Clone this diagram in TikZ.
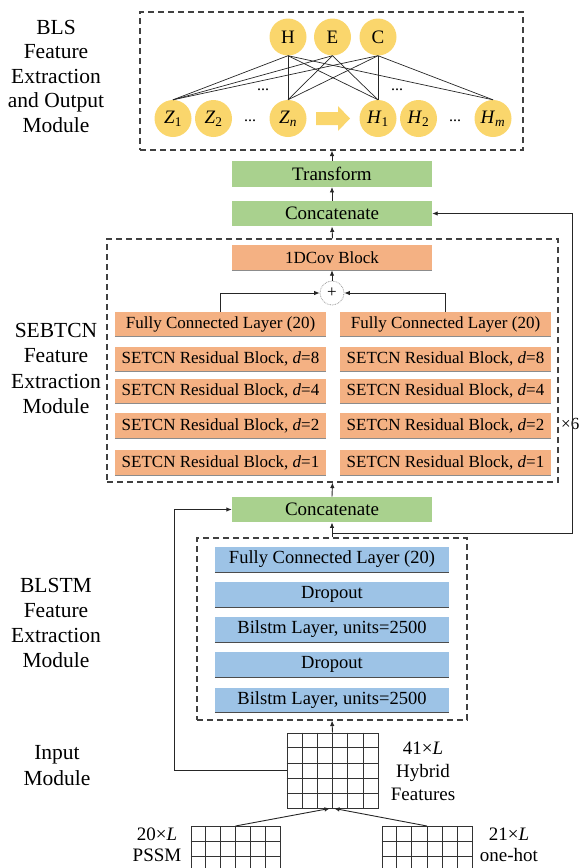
\documentclass[tikz,border=0pt]{standalone}
\usepackage{fontspec}
\setmainfont{Liberation Serif}
\usetikzlibrary{arrows.meta,calc}
\definecolor{cgreen}{HTML}{A9D18E}
\definecolor{corange}{HTML}{F4B183}
\definecolor{cblue}{HTML}{9DC3E6}
\definecolor{cyellow}{HTML}{FAD66C}
\begin{document}
\begin{tikzpicture}[x=1pt,y=-1pt,
  >={Latex[length=5.5pt,width=4.5pt]},
  conn/.style={line width=0.9pt, draw=black!85},
  gbox/.style={fill=cgreen, minimum width=200pt, minimum height=25.5pt, inner sep=0pt, font=\fontsize{19}{22}\selectfont},
  obox/.style={fill=corange, minimum width=211pt, minimum height=24.5pt, inner sep=0pt, font=\fontsize{17}{20}\selectfont,
     append after command={(\tikzlastnode.south west) edge[draw=black!45, line width=0.6pt] (\tikzlastnode.south east)}},
  bbox/.style={fill=cblue, minimum width=234pt, minimum height=25pt, inner sep=0pt, font=\fontsize{18.5}{21}\selectfont,
     append after command={(\tikzlastnode.south west) edge[draw=black!70, line width=0.8pt] (\tikzlastnode.south east)}},
  dbox/.style={draw=black!75, dash pattern=on 6pt off 4pt, line width=1.1pt, inner sep=0pt},
  circ/.style={circle, fill=cyellow, minimum size=37pt, inner sep=0pt, font=\fontsize{19}{20}\selectfont},
  lab/.style={align=center, font=\fontsize{21.5}{24.5}\selectfont},
  glab/.style={align=center, font=\fontsize{19}{23}\selectfont},
  gridnode/.style={draw=black!80, line width=0.8pt, inner sep=0pt},
  dots/.style={font=\fontsize{16}{18}\selectfont}
]
\useasboundingbox (0,0) rectangle (579,868);

% ---------- left labels ----------
\node[lab] (lbls) at (56,76) {BLS\\Feature\\Extraction\\and Output\\Module};
\node[lab, font=\fontsize{21.5}{25.5}\selectfont] (lseb) at (56,368.5) {SEBTCN\\Feature\\Extraction\\Module};
\node[lab, font=\fontsize{21.5}{25}\selectfont] (lblstm) at (56,622.5) {BLSTM\\Feature\\Extraction\\Module};
\node[lab, font=\fontsize{21.5}{26}\selectfont] (linp) at (57,766) {Input\\Module};

% ---------- BLS module ----------
\node[dbox, minimum width=383pt, minimum height=138pt] (tb) at (331.5,81) {};
\node[circ] (cH) at (288,37) {H};
\node[circ] (cE) at (332.5,37) {E};
\node[circ] (cC) at (378,37) {C};
\node[circ] (z1) at (173,118.5) {\textit{Z}\textsubscript{1}};
\node[circ] (z2) at (213.5,118.5) {\textit{Z}\textsubscript{2}};
\node[circ] (zn) at (288,118.5) {\textit{Z}\textsubscript{\textit{n}}};
\node[circ] (h1) at (378,118.5) {\textit{H}\textsubscript{1}};
\node[circ] (h2) at (418.5,118.5) {\textit{H}\textsubscript{2}};
\node[circ] (hm) at (493,118.5) {\textit{H}\textsubscript{\textit{m}}};
\node[dots] (d1) at (250,121) {...};
\node[dots] (d2) at (455,121) {...};
\node[dots] (d3) at (263,90) {...};
\node[dots] (d4) at (397,90) {...};
\foreach \a/\b in {cH/z1,cH/zn,cH/h1,cH/hm,cE/z1,cE/zn,cE/h1,cC/z1,cC/zn,cC/h1,cC/hm}{
  \draw[conn, line width=0.7pt] (\a.south) -- (\b.north);
}
\fill[cyellow] (316,112) -- (338,112) -- (338,106) -- (350,118.5) -- (338,131) -- (338,125) -- (316,125) -- cycle;

% ---------- green upper ----------
\node[gbox] (tr) at (332,174) {Transform};
\node[gbox] (cat2) at (332,213.5) {Concatenate};
\draw[conn,->] (tr.north) -- (tr.north |- tb.south);
\draw[conn,->] (cat2.north) -- (tr.south);

% ---------- SEBTCN ----------
\node[dbox, minimum width=451pt, minimum height=243pt] (sb) at (332.5,360.5) {};
\node[obox, minimum width=200pt, minimum height=25pt] (cov) at (332,257.5) {1DCov Block};
\node[circle, draw=black!50, densely dotted, line width=0.7pt, minimum size=24pt, inner sep=0pt, font=\fontsize{17}{18}\selectfont] (plus) at (332,293) {+};
\node[obox] (fcL) at (220.5,324) {Fully Connected Layer (20)};
\node[obox] (fcR) at (445.5,324) {Fully Connected Layer (20)};
\foreach \y/\d/\n in {359/8/a, 391/4/b, 425.5/2/c, 462.5/1/d}{
  \node[obox] (sL\n) at (220.5,\y) {SETCN Residual Block, \textit{d}=\d};
  \node[obox] (sR\n) at (445.5,\y) {SETCN Residual Block, \textit{d}=\d};
}
\draw[conn,->] (plus.north) -- (cov.south);
\draw[conn,->] (fcL.north) |- (plus.west);
\draw[conn,->] (fcR.north) |- (plus.east);
\draw[conn,->] (sb.north) -- (cat2.south);
\node[font=\fontsize{17}{20}\selectfont, anchor=west, inner sep=0pt] (x6) at (561,424) {×6};

% ---------- lower concatenate ----------
\node[gbox] (cat1) at (332,509.5) {Concatenate};
\draw[conn,->] (cat1.north) -- (sb.south);

% ---------- BLSTM ----------
\node[dbox, minimum width=270pt, minimum height=182pt] (bb) at (332,629) {};
\node[bbox] (bfc) at (332,559.5) {Fully Connected Layer (20)};
\node[bbox] (bdo1) at (332,594.5) {Dropout};
\node[bbox] (bl1) at (332,629.5) {Bilstm Layer, units=2500};
\node[bbox] (bdo2) at (332,664.5) {Dropout};
\node[bbox] (bl2) at (332,700) {Bilstm Layer, units=2500};
\coordinate (j1) at (332,533);
\coordinate (rx) at (572,0);
\coordinate (lx) at (174,0);
\draw[conn,->] (bb.north) -- (cat1.south);
\draw[conn,->] (j1) -- (j1 -| rx) -- (rx |- cat2.east) -- (cat2.east);

% ---------- Input ----------
\node[gridnode, minimum width=91pt, minimum height=75pt] (hyb) at (332.5,770.5) {};
\foreach \i in {1,...,5}{
  \draw[black!80, line width=0.8pt] ($(hyb.north west)!\i/6!(hyb.north east)$) -- ($(hyb.south west)!\i/6!(hyb.south east)$);
}
\foreach \i in {1,...,4}{
  \draw[black!80, line width=0.8pt] ($(hyb.north west)!\i/5!(hyb.south west)$) -- ($(hyb.north east)!\i/5!(hyb.south east)$);
}
\node[glab] (hlab) at (423,771) {41×\textit{L}\\Hybrid\\Features};
\draw[conn,->] (hyb.north) -- (bb.south);
\draw[conn,->] (hyb.west) -- (hyb.west -| lx) -- (lx |- cat1.west) -- (cat1.west);

\begin{scope}
\clip (0,0) rectangle (579,868);
\node[gridnode, minimum width=89pt, minimum height=75pt, anchor=north] (pssm) at (235.5,826) {};
\node[gridnode, minimum width=90pt, minimum height=75pt, anchor=north] (oh) at (427,826) {};
\foreach \g in {pssm,oh}{
  \foreach \i in {1,...,5}{
    \draw[black!80, line width=0.8pt] ($(\g.north west)!\i/6!(\g.north east)$) -- ($(\g.south west)!\i/6!(\g.south east)$);
  }
  \foreach \i in {1,...,4}{
    \draw[black!80, line width=0.8pt] ($(\g.north west)!\i/5!(\g.south west)$) -- ($(\g.north east)!\i/5!(\g.south east)$);
  }
}
\end{scope}
\draw[conn,->] (pssm.north) -- ([xshift=-2.5pt]hyb.south);
\draw[conn,->] (oh.north) -- ([xshift=1.5pt]hyb.south);
\node[glab, font=\fontsize{19}{21.5}\selectfont] (plab) at (157,845) {20×\textit{L}\\PSSM};
\node[glab, font=\fontsize{19}{21.5}\selectfont] (olab) at (509,845) {21×\textit{L}\\one-hot};
\end{tikzpicture}
\end{document}
